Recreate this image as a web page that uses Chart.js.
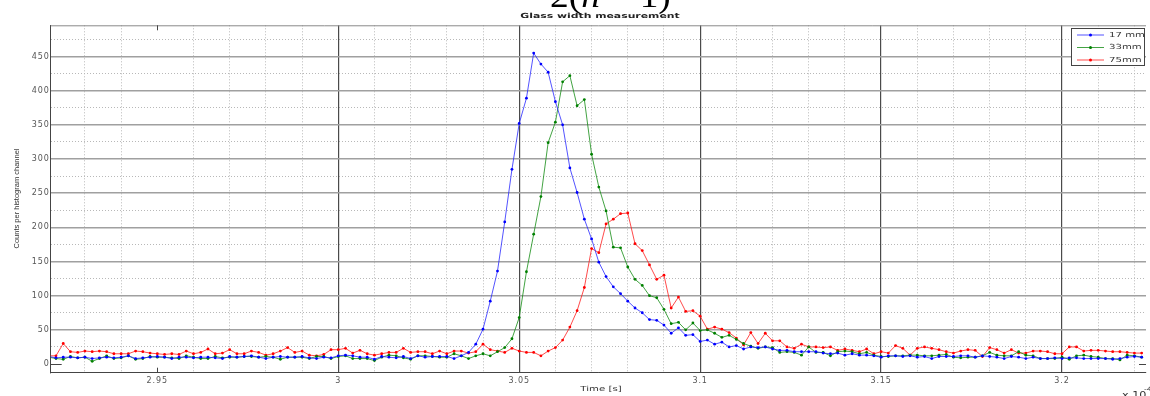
<!DOCTYPE html>
<html><head><meta charset="utf-8">
<script src="https://cdn.jsdelivr.net/npm/chart.js@4.4.1/dist/chart.umd.min.js"></script>
<style>html,body{margin:0;padding:0;background:#fff;overflow:hidden}canvas{display:block}</style>
</head><body>
<canvas id="c" width="1150" height="396"></canvas>
<script>
// Time axis, in units of 1e-4 s
const timeValues = [
 2.920,2.922,2.924,2.926,2.928,2.930,2.932,2.934,2.936,2.938,
 2.940,2.942,2.944,2.946,2.948,2.950,2.952,2.954,2.956,2.958,
 2.960,2.962,2.964,2.966,2.968,2.970,2.972,2.974,2.976,2.978,
 2.980,2.982,2.984,2.986,2.988,2.990,2.992,2.994,2.996,2.998,
 3.000,3.002,3.004,3.006,3.008,3.010,3.012,3.014,3.016,3.018,
 3.020,3.022,3.024,3.026,3.028,3.030,3.032,3.034,3.036,3.038,
 3.040,3.042,3.044,3.046,3.048,3.050,3.052,3.054,3.056,3.058,
 3.060,3.062,3.064,3.066,3.068,3.070,3.072,3.074,3.076,3.078,
 3.080,3.082,3.084,3.086,3.088,3.090,3.092,3.094,3.096,3.098,
 3.100,3.102,3.104,3.106,3.108,3.110,3.112,3.114,3.116,3.118,
 3.120,3.122,3.124,3.126,3.128,3.130,3.132,3.134,3.136,3.138,
 3.140,3.142,3.144,3.146,3.148,3.150,3.152,3.154,3.156,3.158,
 3.160,3.162,3.164,3.166,3.168,3.170,3.172,3.174,3.176,3.178,
 3.180,3.182,3.184,3.186,3.188,3.190,3.192,3.194,3.196,3.198,
 3.200,3.202,3.204,3.206,3.208,3.210,3.212,3.214,3.216,3.218,
 3.220,3.222
];
const counts17mm = [
 11,9,10,10,9,10,8,9,10,9,
 10,12,8,9,10,11,10,8,10,10,
 9,10,10,9,8,11,10,11,12,10,
 8,10,11,10,10,11,9,8,10,9,
 12,13,12,10,10,7,11,10,9,11,
 8,12,10,11,11,11,8,12,17,29,
 51,92,136,208,285,352,389,455,439,427,
 384,350,287,251,212,183,149,128,113,103,
 92,82,75,65,64,57,45,53,42,43,
 33,35,29,32,25,27,22,25,24,25,
 22,20,20,18,18,18,18,16,15,16,
 13,15,13,13,12,10,12,12,11,12,
 10,11,8,11,11,11,12,12,10,12,
 11,10,8,11,10,8,10,8,8,9,
 8,9,9,8,8,8,8,7,8,10,
 11,10
];
const counts33mm = [
 10,8,7,11,9,10,4,8,12,8,
 9,12,7,8,11,10,10,9,8,12,
 10,8,8,11,9,10,10,11,11,10,
 11,10,7,10,10,10,8,11,11,8,
 11,12,8,8,8,5,10,13,12,9,
 7,12,12,11,10,10,15,12,8,12,
 15,12,18,24,37,68,135,190,245,324,
 354,413,422,378,387,307,259,224,171,170,
 142,124,115,100,97,80,59,61,50,60,
 49,50,45,39,42,36,30,26,23,25,
 24,17,18,17,13,25,17,17,12,18,
 19,18,15,17,13,11,11,12,12,13,
 13,12,12,13,14,10,9,10,10,12,
 17,13,12,12,18,13,12,8,8,8,
 10,7,12,13,11,10,8,8,6,13,
 12,10
];
const counts75mm = [
 12,12,30,18,17,19,18,19,18,15,
 15,15,19,18,16,15,14,15,14,19,
 15,17,22,15,16,21,15,15,19,17,
 13,15,19,24,17,19,13,12,14,21,
 21,23,16,20,15,13,15,17,17,23,
 17,18,18,15,19,15,19,19,16,18,
 29,21,19,17,23,19,17,17,12,19,
 24,35,54,78,112,169,163,205,212,220,
 221,176,166,145,124,130,82,98,77,78,
 70,51,54,51,46,38,28,46,30,45,
 34,34,25,23,29,25,25,24,25,20,
 22,20,18,22,15,18,16,27,23,13,
 23,25,23,21,18,16,19,21,20,11,
 24,21,16,21,16,16,19,19,18,15,
 15,25,25,19,20,20,19,18,18,17,
 16,16
];
const seriesLabels = ['17 mm', '33mm', '75mm'];
const seriesColors = ['#0000ff', '#008000', '#ff0000'];
const lineColors = ['rgba(40,40,255,0.8)', 'rgba(20,140,20,0.8)', 'rgba(255,30,30,0.8)'];
const chartTitle = 'Glass width measurement';
const xAxisTitle = 'Time [s]';
const yAxisTitle = 'Counts per histogram channel';
const xRange = [2.92054, 3.2232];
const yRange = [-12.7, 495.7];

const allSeries = [counts17mm, counts33mm, counts75mm];
const isMult = (v, s) => Math.abs(v / s - Math.round(v / s)) < 1e-6;

function stretchText(ctx, text, x, y, font, color, sx, align) {
  ctx.save();
  ctx.font = font; ctx.fillStyle = color; ctx.textBaseline = 'middle'; ctx.textAlign = 'left';
  const w = ctx.measureText(text).width * sx;
  const left = align === 'center' ? x - w / 2 : align === 'right' ? x - w : x;
  ctx.translate(left, y); ctx.scale(sx, 1);
  ctx.fillText(text, 0, 0);
  ctx.restore();
  return w;
}

const deco = {
  id: 'deco',
  beforeDraw(chart) {
    const ctx = chart.ctx;
    ctx.save(); ctx.fillStyle = '#fff'; ctx.fillRect(0, 0, chart.width, chart.height); ctx.restore();
    ctx.letterSpacing = '0.9px';
  },
  beforeDatasetsDraw(chart) {
    const { ctx, chartArea: a, scales } = chart;
    ctx.save();
    ctx.letterSpacing = '0px';
    ctx.strokeStyle = '#8a8a8a'; ctx.lineWidth = 1;
    ctx.beginPath(); ctx.moveTo(a.left, a.top + 0.5); ctx.lineTo(a.right, a.top + 0.5); ctx.stroke();
    // small inside tick marks where the grid line is missing
    ctx.strokeStyle = '#444';
    const x295 = Math.round(scales.x.getPixelForValue(2.95)) + 0.5;
    ctx.beginPath();
    ctx.moveTo(x295, a.top); ctx.lineTo(x295, a.top + 5);
    ctx.moveTo(x295, a.bottom); ctx.lineTo(x295, a.bottom - 5);
    const y0 = Math.round(scales.y.getPixelForValue(0)) + 0.5;
    ctx.moveTo(a.left, y0); ctx.lineTo(a.left + 11, y0);
    ctx.moveTo(a.right, y0); ctx.lineTo(a.right - 7, y0);
    ctx.stroke();
    ctx.restore();
  },
  afterDraw(chart) {
    const { ctx } = chart;
    ctx.letterSpacing = '0px';
    // cropped equation fragment at the very top
    ctx.save();
    ctx.fillStyle = '#000'; ctx.textBaseline = 'alphabetic';
    ctx.translate(550, 7); ctx.scale(1.1, 1);
    let x = 0;
    const parts = [['2(', '34px "Liberation Serif"'], ['n', 'italic 34px "Liberation Serif"'], [' \u2212 1)', '34px "Liberation Serif"']];
    for (const [t, f] of parts) { ctx.font = f; ctx.fillText(t, x, 0); x += ctx.measureText(t).width; }
    ctx.restore();
    // title
    stretchText(ctx, chartTitle, 600, 16, 'bold 7px "DejaVu Sans"', '#222', 1.55, 'center');
    // x axis title
    stretchText(ctx, xAxisTitle, 601, 389, '7px "DejaVu Sans"', '#333', 1.45, 'center');
    // y axis title (rotated)
    ctx.save();
    ctx.translate(16.5, 198.5); ctx.rotate(-Math.PI / 2);
    ctx.font = '7.5px "Liberation Sans"'; ctx.fillStyle = '#333'; ctx.textAlign = 'center'; ctx.textBaseline = 'middle';
    ctx.fillText(yAxisTitle, 0, 0);
    ctx.restore();
    // x 10^-4 multiplier (cut by the frame)
    stretchText(ctx, 'x 10', 1122, 396, '8px "DejaVu Sans"', '#333', 1.4, 'left');
    stretchText(ctx, '-4', 1144, 389, '6px "DejaVu Sans"', '#333', 1.3, 'left');
    // legend
    const L = { l: 1071, t: 28, r: 1145, b: 66 };
    ctx.save();
    ctx.fillStyle = '#fff'; ctx.fillRect(L.l, L.t, L.r - L.l, L.b - L.t);
    ctx.strokeStyle = '#444'; ctx.lineWidth = 1;
    ctx.strokeRect(L.l + 0.5, L.t + 0.5, L.r - L.l - 1, L.b - L.t - 1);
    chart.data.datasets.forEach((ds, i) => {
      const yy = 35 + i * 12.5;
      ctx.strokeStyle = ds.borderColor; ctx.lineWidth = 1;
      ctx.beginPath(); ctx.moveTo(1077, yy); ctx.lineTo(1104, yy); ctx.stroke();
      ctx.fillStyle = ds.pointBackgroundColor;
      ctx.beginPath(); ctx.arc(1090.5, yy, 1.5, 0, Math.PI * 2); ctx.fill();
      stretchText(ctx, ds.label, 1109, yy, '7px "DejaVu Sans"', '#333', 1.45, 'left');
    });
    ctx.restore();
  }
};

new Chart(document.getElementById('c'), {
  type: 'line',
  data: {
    datasets: allSeries.map((s, k) => ({
      label: seriesLabels[k],
      data: timeValues.map((t, i) => ({ x: t, y: s[i] })),
      borderColor: lineColors[k],
      backgroundColor: seriesColors[k],
      pointBackgroundColor: seriesColors[k],
      pointBorderWidth: 0,
      pointRadius: 1.4,
      borderWidth: 1,
      tension: 0,
      fill: false
    }))
  },
  options: {
    responsive: false,
    animation: false,
    devicePixelRatio: 1,
    layout: { padding: { top: 25.3, right: 0, bottom: 0, left: 0 } },
    plugins: { legend: { display: false }, tooltip: { enabled: false }, title: { display: false } },
    scales: {
      x2: {
        type: 'linear', position: 'bottom', min: xRange[0], max: xRange[1],
        ticks: { display: false, stepSize: 0.01, includeBounds: false },
        grid: { drawTicks: false, lineWidth: 1, color: c => isMult(c.tick.value, 0.05) ? 'rgba(0,0,0,0)' : '#b8b8b8' },
        border: { display: false, dash: [1, 2] },
        afterFit: s => { s.height = 0; }
      },
      y2: {
        type: 'linear', position: 'left', min: yRange[0], max: yRange[1],
        ticks: { display: false, stepSize: 25, includeBounds: false },
        grid: { drawTicks: false, lineWidth: 1, color: c => isMult(c.tick.value, 50) ? 'rgba(0,0,0,0)' : '#b8b8b8' },
        border: { display: false, dash: [1, 2] },
        afterFit: s => { s.width = 0; }
      },
      x: {
        type: 'linear', position: 'bottom', min: xRange[0], max: xRange[1],
        ticks: {
          stepSize: 0.05, includeBounds: false, autoSkip: false, maxRotation: 0, padding: 3,
          color: '#555', font: { family: 'DejaVu Sans', size: 8 },
          callback: v => String(Math.round(v * 100) / 100)
        },
        grid: { drawTicks: false, lineWidth: 1.2, color: c => (c.tick && isMult(c.tick.value - 2.95, 1)) ? 'rgba(0,0,0,0)' : '#4a4a4a' },
        border: { display: true, color: '#444', width: 1 },
        afterFit: s => { s.height = 23.3; }
      },
      y: {
        type: 'linear', position: 'left', min: yRange[0], max: yRange[1],
        ticks: {
          stepSize: 50, includeBounds: false, padding: 1,
          color: '#555', font: { family: 'DejaVu Sans', size: 8 }
        },
        grid: { drawTicks: false, lineWidth: 1.4, color: c => (c.tick && c.tick.value === 0) ? 'rgba(0,0,0,0)' : '#a0a0a0' },
        border: { display: true, color: '#444', width: 1 },
        afterFit: s => { s.width = 50.7; }
      }
    }
  },
  plugins: [deco]
});
</script>
</body></html>
